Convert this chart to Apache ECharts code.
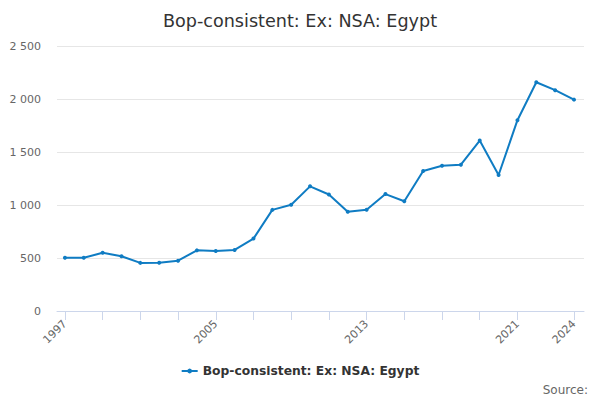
<!DOCTYPE html>
<html><head><meta charset="utf-8">
<script src="https://cdn.jsdelivr.net/npm/echarts@6/dist/echarts.min.js"></script>
<style>html,body{margin:0;padding:0;background:#fff}#c{width:600px;height:400px}</style>
</head><body><div id="c"></div>
<script>
const years = [1997,1998,1999,2000,2001,2002,2003,2004,2005,2006,2007,2008,2009,2010,2011,2012,2013,2014,2015,2016,2017,2018,2019,2020,2021,2022,2023,2024];
const values = [503,502,549,517,454,456,475,572,566,576,683,954,1003,1176,1099,937,955,1103,1035,1321,1371,1380,1608,1283,1800,2158,2083,1994];
const xTicks = [1997,1999,2001,2003,2005,2007,2009,2011,2013,2015,2017,2019,2021,2024];
const xLabels = [1997,2005,2013,2021,2024];
const seriesName = 'Bop-consistent: Ex: NSA: Egypt';
const font = 'DejaVu Sans';
const chart = echarts.init(document.getElementById('c'), null, {renderer:'svg'});
const fmt = v => String(v).replace(/\B(?=(\d{3})+(?!\d))/g, ' ');
chart.setOption({
  animation:false,
  textStyle:{fontFamily:font},
  title:{text:seriesName,left:'center',top:7,textStyle:{fontFamily:font,fontSize:17.6,fontWeight:'normal',color:'#333'}},
  legend:{bottom:18,left:'center',itemWidth:16,itemHeight:6,itemGap:6,
    textStyle:{fontFamily:font,fontSize:12.3,fontWeight:'bold',color:'#333'},data:[seriesName]},
  graphic:[{type:'text',right:12,bottom:4,style:{text:'Source:',font:'12px DejaVu Sans',fill:'#666'}}],
  grid:{left:57,right:16,top:46,bottom:89,containLabel:false},
  xAxis:{type:'value',min:1996.58,max:2024.53,
    splitLine:{show:false},
    axisLine:{show:true,lineStyle:{color:'#ccd6eb'}},
    axisTick:{show:true,length:9,lineStyle:{color:'#ccd6eb'},customValues:xTicks},
    axisLabel:{rotate:45,color:'#666',fontSize:11,fontFamily:font,customValues:xLabels,margin:11,formatter:v=>String(v)}},
  yAxis:{type:'value',min:0,max:2500,interval:500,
    axisLine:{show:false},axisTick:{show:false},
    splitLine:{lineStyle:{color:'#e6e6e6'}},
    axisLabel:{color:'#666',fontSize:11,fontFamily:font,margin:16,formatter:fmt}},
  series:[{name:seriesName,type:'line',data:years.map((y,i)=>[y,values[i]]),
    color:'#0f7cc3',lineStyle:{width:2},symbol:'circle',symbolSize:4,showSymbol:true}]
});
</script></body></html>
